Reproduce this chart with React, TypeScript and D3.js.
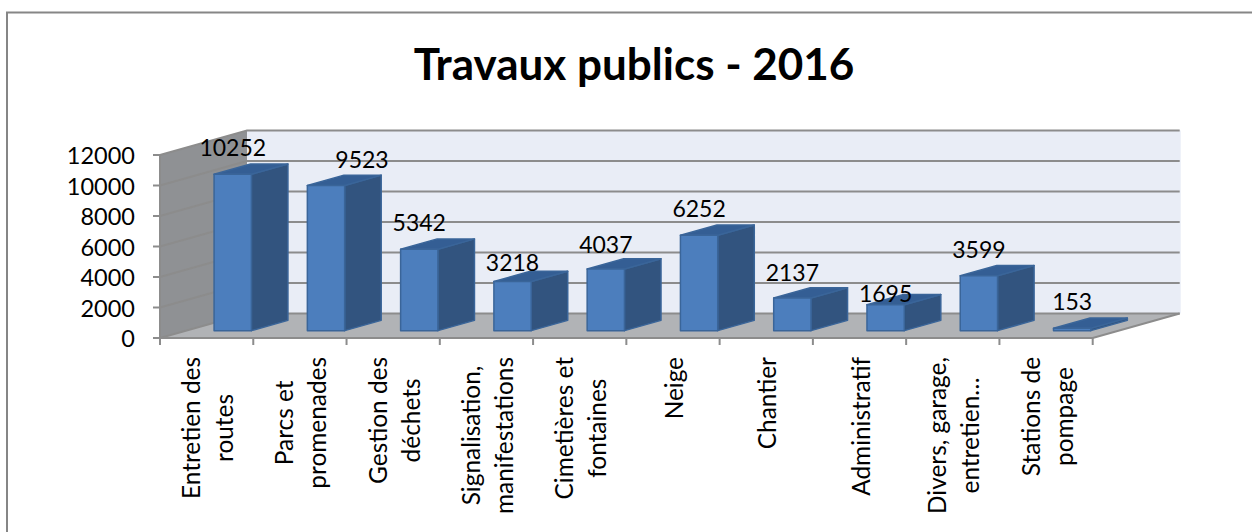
import React from 'react';
import * as d3 from 'd3';

const title = 'Travaux publics - 2016';
const categories = [
  ['Entretien des', 'routes'],
  ['Parcs et', 'promenades'],
  ['Gestion des', 'déchets'],
  ['Signalisation,', 'manifestations'],
  ['Cimetières et', 'fontaines'],
  ['Neige'],
  ['Chantier'],
  ['Administratif'],
  ['Divers, garage,', 'entretien…'],
  ['Stations de', 'pompage'],
];
const values = [10252, 9523, 5342, 3218, 4037, 6252, 2137, 1695, 3599, 153];
const yTicks = [0, 2000, 4000, 6000, 8000, 10000, 12000];

const FONT = 'Lato, "Noto Sans", sans-serif';
const CAT_SIZE = 24.4;

// floor/wall projection
const left = 160;
const right = 1092.7;
const y0 = 338;
const y1 = 155;
const wallDx = 87;
const wallDy = -24.5;
const barDepth = 0.42;
const barPlane = 0.3;

// a few value labels were dragged by hand in the original chart
const labelShift: Record<number, [number, number]> = {
  1: [36, 1],
  3: [0, 8],
  4: [0, 2],
  6: [0, 1],
  7: [0, 15],
  8: [0, 1],
};

// the longest line of a label starts at the same distance under the axis
const measure = (s: string) => {
  const ctx = document.createElement('canvas').getContext('2d')!;
  ctx.font = `${CAT_SIZE}px ${FONT}`;
  return ctx.measureText(s).width;
};

const App = () => {
  const x = d3.scaleBand<number>().domain(d3.range(values.length)).range([left, right]).paddingInner(0.6).paddingOuter(0.3);
  const y = d3.scaleLinear().domain([0, 12000]).range([y0, y1]);
  const step = x.step();
  const bw = x.bandwidth();
  const pDx = wallDx * barPlane;
  const pDy = wallDy * barPlane;
  const dDx = wallDx * barDepth;
  const dDy = wallDy * barDepth;
  const poly = (pts: number[][]) => d3.line()(pts as [number, number][]) + 'Z';

  return (
    <svg width={1252} height={532} style={{ position: 'absolute', left: 0, top: 0 }}>
      <rect x={7} y={12.5} width={1300} height={600} fill="#fff" stroke="#868686" strokeWidth={2} />
      <text x={634} y={80} textAnchor="middle" fontFamily={FONT} fontWeight={700} fontSize={44} fill="#000">{title}</text>

      {/* walls and floor */}
      <path d={poly([[left, y0], [left, y1], [left + wallDx, y1 + wallDy], [left + wallDx, y0 + wallDy]])} fill="#8f9194" />
      <path d={poly([[left + wallDx, y0 + wallDy], [left + wallDx, y1 + wallDy], [right + wallDx + 1, y1 + wallDy], [right + wallDx + 1, y0 + wallDy]])} fill="#e9edf6" />
      <path d={poly([[left, y0], [left + wallDx, y0 + wallDy], [right + wallDx, y0 + wallDy], [right, y0]])} fill="#b1b3b6" />

      {/* gridlines */}
      {yTicks.map(t => (
        <path key={t} d={`M${left},${y(t)}L${left + wallDx},${y(t) + wallDy}L${right + wallDx},${y(t) + wallDy}`} fill="none" stroke="#8c8c8c" strokeWidth={2} />
      ))}

      {/* axes */}
      <path d={`M${left},${y1}V${y0}H${right}L${right + wallDx},${y0 + wallDy}`} fill="none" stroke="#8c8c8c" strokeWidth={2} />
      {yTicks.map(t => (
        <g key={t}>
          <line x1={left - 7} x2={left} y1={y(t)} y2={y(t)} stroke="#8c8c8c" strokeWidth={2} />
          <text x={135} y={y(t) + 9} textAnchor="end" fontFamily={FONT} fontSize={23.5} fill="#000">{t}</text>
        </g>
      ))}
      {d3.range(values.length + 1).map(i => (
        <line key={i} x1={left + i * step} x2={left + i * step} y1={y0} y2={y0 + 7} stroke="#8c8c8c" strokeWidth={2} />
      ))}

      {/* bars */}
      {values.map((v, i) => {
        const x0 = x(i)! + pDx;
        const x1 = x0 + bw;
        const yb = y0 + pDy;
        const yt = y(v) + pDy;
        return (
          <g key={i} stroke="#3a6599" strokeWidth={1.5} strokeLinejoin="round">
            <path d={poly([[x1, yb], [x1, yt], [x1 + dDx, yt + dDy], [x1 + dDx, yb + dDy]])} fill="#32547f" />
            <path d={poly([[x0, yt], [x1, yt], [x1 + dDx, yt + dDy], [x0 + dDx, yt + dDy]])} fill="#345e94" />
            <rect x={x0} y={yt} width={bw} height={yb - yt} fill="#4c7ebd" />
          </g>
        );
      })}

      {/* value labels */}
      {values.map((v, i) => {
        const [sx, sy] = labelShift[i] ?? [0, 0];
        return (
          <text key={i} x={x(i)! + pDx + bw / 2 + sx} y={y(v) + pDy + dDy - 8 + sy} textAnchor="middle" fontFamily={FONT} fontSize={23} fill="#000">{v}</text>
        );
      })}

      {/* category labels */}
      {categories.map((lines, i) => {
        const cx = left + (i + 0.5) * step;
        const longest = d3.max(lines, measure)!;
        return (
          <text key={i} transform={`translate(${cx + 10},${357 + longest / 2}) rotate(-90)`} textAnchor="middle" fontFamily={FONT} fontSize={CAT_SIZE} fill="#000">
            {lines.map((l, k) => (
              <tspan key={k} x={0} y={(k - (lines.length - 1) / 2) * 33}>{l}</tspan>
            ))}
          </text>
        );
      })}
    </svg>
  );
};

export default App;
